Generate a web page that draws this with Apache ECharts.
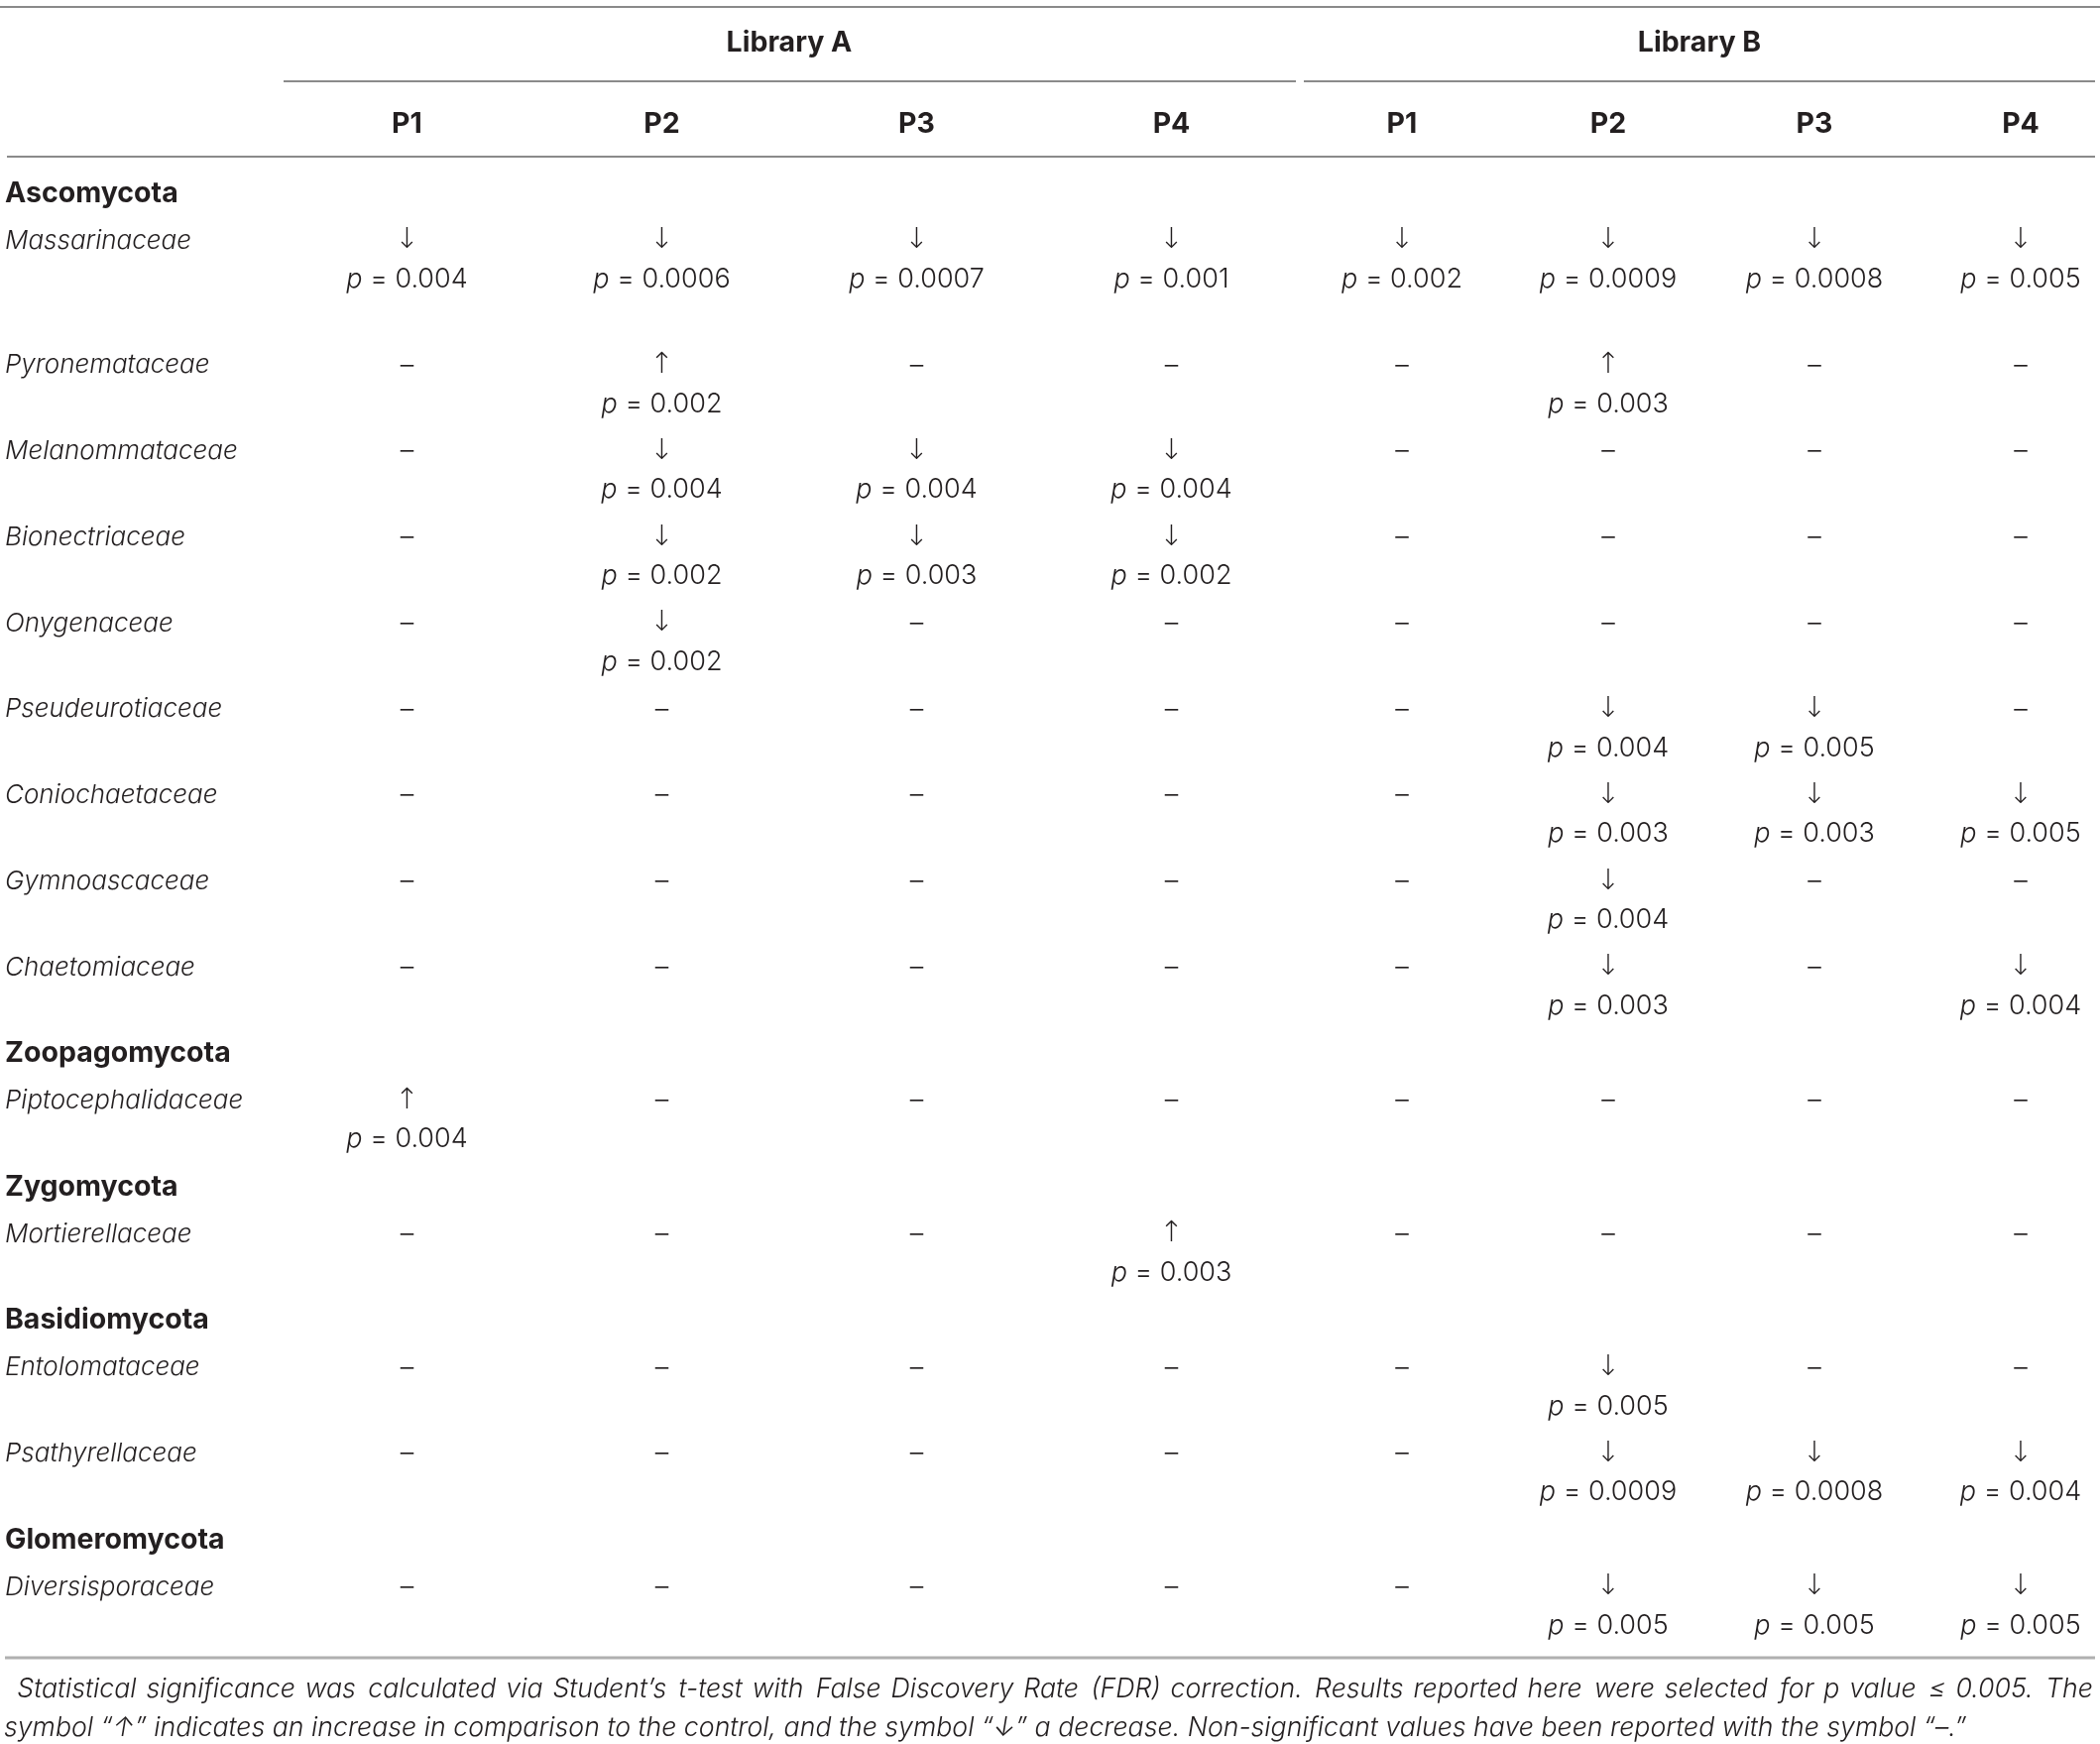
<!DOCTYPE html>
<html lang="en">
<head>
<meta charset="UTF-8">
<title>Significant fungal families</title>
<script src="https://cdn.jsdelivr.net/npm/echarts@6/dist/echarts.min.js"></script>
<style>
  html, body { margin: 0; padding: 0; background: #fff; }
  #chart { width: 2118px; height: 1759px; }
</style>
</head>
<body>
<div id="chart"></div>
<script>
// column heads
const libraries = ['Library A', 'Library B'];
const periods = ['P1', 'P2', 'P3', 'P4'];

// phyla, and how many families are listed under each one
const phyla = ['Ascomycota', 'Zoopagomycota', 'Zygomycota', 'Basidiomycota', 'Glomeromycota'];
const phylumSize = [9, 1, 1, 2, 1];
const families = [
  'Massarinaceae', 'Pyronemataceae', 'Melanommataceae', 'Bionectriaceae', 'Onygenaceae',
  'Pseudeurotiaceae', 'Coniochaetaceae', 'Gymnoascaceae', 'Chaetomiaceae',
  'Piptocephalidaceae', 'Mortierellaceae', 'Entolomataceae', 'Psathyrellaceae', 'Diversisporaceae'
];

// cells P1..P4 per family: arrow + p value, '–' = not significant
const libA = [
  ['↓0.004', '↓0.0006', '↓0.0007', '↓0.001'],
  ['–', '↑0.002', '–', '–'],
  ['–', '↓0.004', '↓0.004', '↓0.004'],
  ['–', '↓0.002', '↓0.003', '↓0.002'],
  ['–', '↓0.002', '–', '–'],
  ['–', '–', '–', '–'],
  ['–', '–', '–', '–'],
  ['–', '–', '–', '–'],
  ['–', '–', '–', '–'],
  ['↑0.004', '–', '–', '–'],
  ['–', '–', '–', '↑0.003'],
  ['–', '–', '–', '–'],
  ['–', '–', '–', '–'],
  ['–', '–', '–', '–']
];
const libB = [
  ['↓0.002', '↓0.0009', '↓0.0008', '↓0.005'],
  ['–', '↑0.003', '–', '–'],
  ['–', '–', '–', '–'],
  ['–', '–', '–', '–'],
  ['–', '–', '–', '–'],
  ['–', '↓0.004', '↓0.005', '–'],
  ['–', '↓0.003', '↓0.003', '↓0.005'],
  ['–', '↓0.004', '–', '–'],
  ['–', '↓0.003', '–', '↓0.004'],
  ['–', '–', '–', '–'],
  ['–', '–', '–', '–'],
  ['–', '↓0.005', '–', '–'],
  ['–', '↓0.0009', '↓0.0008', '↓0.004'],
  ['–', '↓0.005', '↓0.005', '↓0.005']
];

const footnote = [
  'Statistical significance was calculated via Student’s t-test with False Discovery Rate (FDR) correction. Results reported here were selected for p value ≤ 0.005. The',
  'symbol “↑” indicates an increase in comparison to the control, and the symbol “↓” a decrease. Non-significant values have been reported with the symbol “–.”'
];

// ---- layout (y axis counts text lines) ----
const FONT = 'Inter, Roboto, "Helvetica Neue", Arial, sans-serif';
const INK = '#231f20';
const LINE_PX = 38.9;
const PAD = 0.23;          // spacing between rows, in lines
const TOP = 158, BOTTOM = 87;
const NOTE_SIZE = 26.7;

const labelRows = [];
const familyY = [];
let y = 0, f = 0;
phyla.forEach(function (ph, i) {
  labelRows.push({ name: ph, y: y, bold: true });
  y += 1 + PAD;
  for (let k = 0; k < phylumSize[i]; k++) {
    labelRows.push({ name: families[f], y: y, bold: false });
    familyY[f] = y;
    // first row of the source table carries one blank line below it
    y += 2 + PAD + (f === 0 ? 1 : 0);
    f++;
  }
});
const yMin = -37 / LINE_PX;
const yMax = yMin + (1759 - TOP - BOTTOM) / LINE_PX;

function cellsOf(lib) {
  const out = [];
  lib.forEach(function (row, r) {
    row.forEach(function (v, c) { out.push({ col: c, y: familyY[r], v: v }); });
  });
  return out;
}
const cellsA = cellsOf(libA);
const cellsB = cellsOf(libB);

// footnote is a justified paragraph: spread hair spaces over the gaps of line 1
function justify(line, width) {
  const ctx = document.createElement('canvas').getContext('2d');
  ctx.font = 'italic 300 ' + NOTE_SIZE + 'px ' + FONT;
  const words = line.split(' ');
  const gaps = words.length - 1;
  const hair = ctx.measureText('\u200A').width || 1;
  const total = Math.max(0, Math.floor((width - ctx.measureText(line).width) / hair));
  let out = words[0];
  for (let i = 1; i < words.length; i++) {
    const n = Math.floor(i * total / gaps) - Math.floor((i - 1) * total / gaps);
    out += ' ' + '\u200A'.repeat(n) + words[i];
  }
  return out;
}
const noteText = '\u2002' + justify(footnote[0], 2094) + '\n' + footnote[1];

function txt(x, yy, text, extra) {
  return {
    type: 'text', x: x, y: yy,
    style: Object.assign({
      text: text, fill: INK, fontFamily: FONT, fontSize: 26, fontWeight: 300,
      align: 'center', verticalAlign: 'middle'
    }, extra || {})
  };
}

function cellRenderer(cells) {
  return function (params, api) {
    const cell = cells[params.dataIndex];
    const pt = api.coord([cell.col, cell.y]);
    if (cell.v === '–') return txt(pt[0], pt[1], '–', { fontSize: 27 });
    const pt2 = api.coord([cell.col, cell.y + 1]);
    return {
      type: 'group',
      children: [
        txt(pt[0], pt[1], cell.v[0], { fontSize: 29, fontFamily: '"DejaVu Sans", sans-serif', fontWeight: 200 }),
        txt(pt2[0], pt2[1], '{i|p}{n| = ' + cell.v.slice(1) + '}', {
          rich: {
            i: { fontFamily: FONT, fontSize: 27, fontWeight: 300, fontStyle: 'italic', fill: INK },
            n: { fontFamily: FONT, fontSize: 27, fontWeight: 300, fill: INK }
          }
        })
      ]
    };
  };
}

function labelRenderer(params, api) {
  const row = labelRows[params.dataIndex];
  const pt = api.coord([0, row.y]);
  return txt(pt[0] + 5, pt[1], row.name, row.bold
    ? { align: 'left', fontWeight: 'bold', fontSize: 28.5 }
    : { align: 'left', fontStyle: 'italic' });
}

const headLabel = { fontFamily: FONT, fontSize: 28.5, fontWeight: 'bold', color: INK, lineHeight: 30 };

const chart = echarts.init(document.getElementById('chart'));
chart.setOption({
  animation: false,
  backgroundColor: '#fff',
  title: {
    text: noteText,
    left: 4, top: 1684, padding: 0,
    textStyle: { fontFamily: FONT, fontSize: NOTE_SIZE, fontWeight: 300, fontStyle: 'italic', color: INK, lineHeight: 39 }
  },
  grid: [
    { left: 282, width: 1028, top: TOP, bottom: BOTTOM, outerBoundsMode: 'none' },
    { left: 1310, width: 832, top: TOP, bottom: BOTTOM, outerBoundsMode: 'none' },
    { left: 0, width: 282, top: TOP, bottom: BOTTOM, outerBoundsMode: 'none' }
  ],
  xAxis: [0, 1].map(function (g) {
    return {
      type: 'category', gridIndex: g, position: 'top', data: periods,
      axisLine: { show: false }, axisTick: { show: false }, splitLine: { show: false },
      axisLabel: Object.assign({ margin: 18 }, headLabel),
      name: libraries[g], nameLocation: 'middle', nameGap: 100,
      nameTextStyle: Object.assign({ padding: g === 1 ? [0, 24, 0, 0] : 0 }, headLabel)
    };
  }).concat([{ type: 'value', gridIndex: 2, min: 0, max: 1, show: false }]),
  yAxis: [0, 1, 2].map(function (g) {
    return { type: 'value', gridIndex: g, min: yMin, max: yMax, inverse: true, show: false };
  }),
  graphic: [
    { type: 'line', shape: { x1: 0, y1: 7, x2: 2118, y2: 7 }, style: { stroke: '#8a8a8a', lineWidth: 2 } },
    { type: 'line', shape: { x1: 286, y1: 82, x2: 1307, y2: 82 }, style: { stroke: '#8a8a8a', lineWidth: 2 } },
    { type: 'line', shape: { x1: 1315, y1: 82, x2: 2113, y2: 82 }, style: { stroke: '#8a8a8a', lineWidth: 2 } },
    { type: 'line', shape: { x1: 7, y1: 158, x2: 2113, y2: 158 }, style: { stroke: '#8a8a8a', lineWidth: 2 } },
    { type: 'line', shape: { x1: 5, y1: 1672, x2: 2113, y2: 1672 }, style: { stroke: '#b0b0b0', lineWidth: 3 } }
  ],
  series: [
    { type: 'custom', name: libraries[0], xAxisIndex: 0, yAxisIndex: 0, clip: false,
      data: cellsA.map(function (c) { return [c.col, c.y]; }), renderItem: cellRenderer(cellsA) },
    { type: 'custom', name: libraries[1], xAxisIndex: 1, yAxisIndex: 1, clip: false,
      data: cellsB.map(function (c) { return [c.col, c.y]; }), renderItem: cellRenderer(cellsB) },
    { type: 'custom', name: 'taxa', xAxisIndex: 2, yAxisIndex: 2, clip: false,
      data: labelRows.map(function (r) { return [0, r.y]; }), renderItem: labelRenderer }
  ]
});
</script>
</body>
</html>
